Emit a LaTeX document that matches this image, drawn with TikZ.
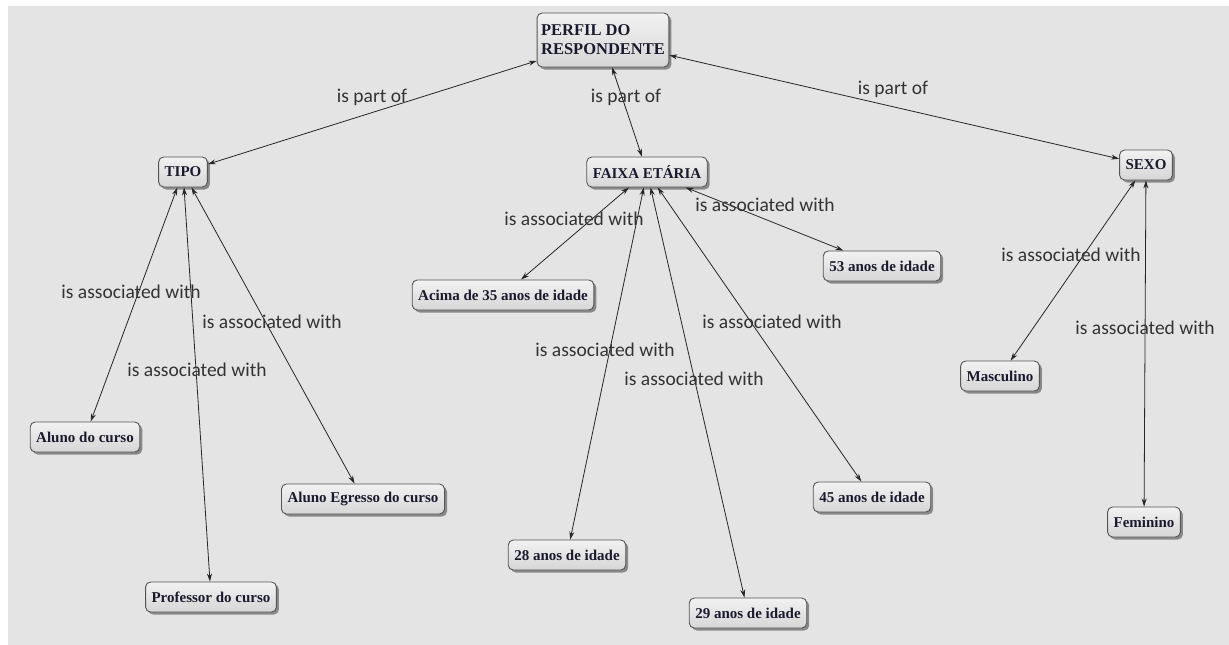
\documentclass[tikz,border=0pt]{standalone}
\usepackage{fontspec}
\setmainfont{Liberation Serif}
\newfontfamily\labelfont{Carlito}
\usetikzlibrary{arrows.meta,shadows}
\definecolor{canvas}{HTML}{E4E4E4}
\definecolor{boxtop}{HTML}{F2F2F2}
\definecolor{boxbottom}{HTML}{D6D6D6}
\definecolor{boxedge}{HTML}{555555}
\definecolor{labelgray}{HTML}{333333}
\definecolor{textink}{HTML}{1A1A2E}
\tikzset{
  concept/.style={draw=boxedge, line width=0.9pt, rounded corners=5pt,
    top color=boxtop, bottom color=boxbottom,
    drop shadow={shadow xshift=2.5pt, shadow yshift=-2.5pt, fill=black!55, opacity=0.8},
    font=\fontsize{15}{16}\selectfont\bfseries, text=textink,
    inner xsep=6pt, inner ysep=4pt, minimum height=30pt},
  link/.style={draw=black!85, line width=0.8pt,
    {Stealth[length=8pt,width=5pt]}-{Stealth[length=8pt,width=5pt]}},
  phrase/.style={font=\labelfont\fontsize{19.5}{21}\selectfont, text=labelgray, inner sep=0pt}
}
\begin{document}
\begin{tikzpicture}[x=1pt,y=-1pt]
  \useasboundingbox (0,0) rectangle (1229,645);
  \fill[white] (0,0) rectangle (1229,645);
  \fill[canvas] (8,6) rectangle (1229,645);

  % concepts
  \node[concept, align=left, minimum height=54pt, inner ysep=5pt, inner xsep=4pt,
        font=\fontsize{16.5}{19}\selectfont\bfseries] (perfil) at (603,40) {PERFIL DO\\RESPONDENTE};
  \node[concept] (tipo) at (183,172) {TIPO};
  \node[concept] (faixa) at (647,172) {FAIXA ETÁRIA};
  \node[concept] (sexo) at (1146,165) {SEXO};
  \node[concept] (aluno) at (85,437) {Aluno do curso};
  \node[concept] (prof) at (211,597) {Professor do curso};
  \node[concept] (egresso) at (363,499) {Aluno Egresso do curso};
  \node[concept] (acima) at (503,295) {Acima de 35 anos de idade};
  \node[concept] (a53) at (882,266) {53 anos de idade};
  \node[concept] (a28) at (567,555) {28 anos de idade};
  \node[concept] (a29) at (748,613) {29 anos de idade};
  \node[concept] (a45) at (872,497) {45 anos de idade};
  \node[concept] (masc) at (1000,376) {Masculino};
  \node[concept] (fem) at (1144,522) {Feminino};

  % connectors
  \draw[link] (tipo) -- (perfil);
  \draw[link] (faixa) -- (perfil);
  \draw[link] (sexo) -- (perfil);
  \draw[link] (tipo) -- (aluno);
  \draw[link] (tipo) -- (prof);
  \draw[link] (tipo) -- (egresso);
  \draw[link] (faixa) -- (acima);
  \draw[link] (faixa) -- (a53);
  \draw[link] (faixa) -- (a28);
  \draw[link] (faixa) -- (a29);
  \draw[link] (faixa) -- (a45);
  \draw[link] (sexo) -- (masc);
  \draw[link] (sexo) -- (fem);

  % linking phrases
  \node[phrase] (p1) at (372,97) {is part of};
  \node[phrase] (p2) at (626,97) {is part of};
  \node[phrase] (p3) at (893,89) {is part of};
  \node[phrase] (p4) at (131,292) {is associated with};
  \node[phrase] (p5) at (272,322) {is associated with};
  \node[phrase] (p6) at (197,370) {is associated with};
  \node[phrase] (p7) at (574,219) {is associated with};
  \node[phrase] (p8) at (765,205) {is associated with};
  \node[phrase] (p9) at (605,350) {is associated with};
  \node[phrase] (p10) at (694,379) {is associated with};
  \node[phrase] (p11) at (772,322) {is associated with};
  \node[phrase] (p12) at (1071,255) {is associated with};
  \node[phrase] (p13) at (1145,328) {is associated with};
\end{tikzpicture}
\end{document}
